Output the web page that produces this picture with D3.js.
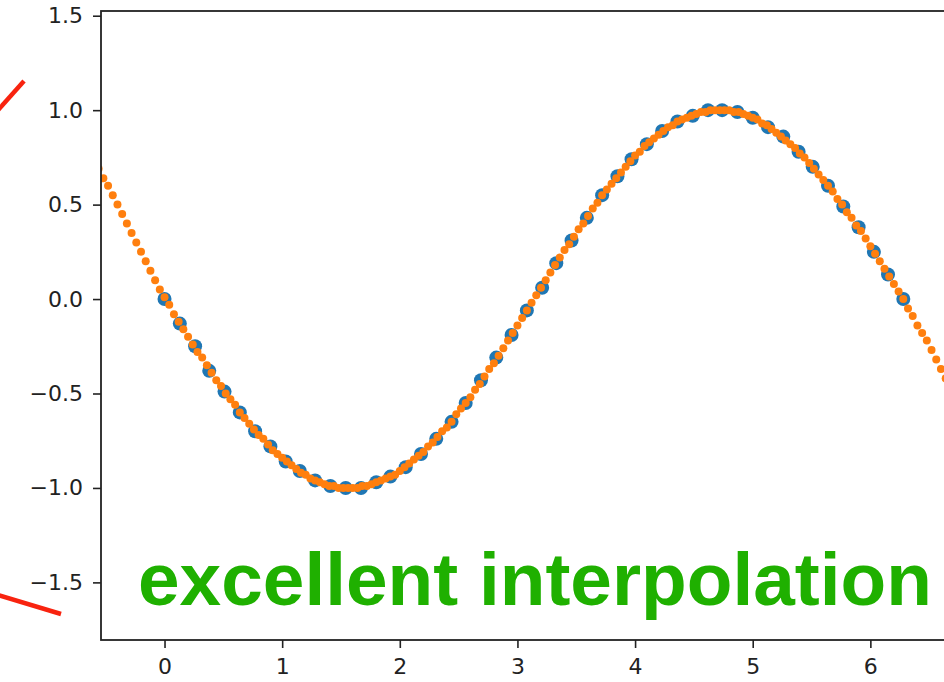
<!DOCTYPE html>
<html>
<head>
<meta charset="utf-8">
<script src="https://cdn.jsdelivr.net/npm/d3@7"></script>
<style>
  html, body { margin: 0; padding: 0; background: #fff; }
  svg { display: block; }
  .tick text { font-family: "DejaVu Sans", sans-serif; font-size: 22px; fill: #222; }
</style>
</head>
<body>
<svg id="chart" width="944" height="682"></svg>
<script>
// Training samples (blue)
const sampleX = [0.00, 0.13, 0.26, 0.38, 0.51, 0.64, 0.77, 0.90, 1.03, 1.15,
  1.28, 1.41, 1.54, 1.67, 1.80, 1.92, 2.05, 2.18, 2.31, 2.44,
  2.56, 2.69, 2.82, 2.95, 3.08, 3.21, 3.33, 3.46, 3.59, 3.72,
  3.85, 3.97, 4.10, 4.23, 4.36, 4.49, 4.62, 4.74, 4.87, 5.00,
  5.13, 5.26, 5.39, 5.51, 5.64, 5.77, 5.90, 6.03, 6.15, 6.28];
const sampleY = [0.00, -0.13, -0.25, -0.38, -0.49, -0.60, -0.70, -0.78, -0.86, -0.91,
  -0.96, -0.99, -1.00, -1.00, -0.97, -0.94, -0.89, -0.82, -0.74, -0.65,
  -0.55, -0.43, -0.31, -0.19, -0.06, 0.06, 0.19, 0.31, 0.43, 0.55,
  0.65, 0.74, 0.82, 0.89, 0.94, 0.97, 1.00, 1.00, 0.99, 0.96,
  0.91, 0.86, 0.78, 0.70, 0.60, 0.49, 0.38, 0.25, 0.13, 0.00];

// Model predictions on a dense grid (orange)
const predX = [-0.56, -0.52, -0.48, -0.44, -0.40, -0.36, -0.32, -0.28, -0.24, -0.20,
  -0.16, -0.12, -0.08, -0.04, 0.00, 0.04, 0.08, 0.12, 0.16, 0.20,
  0.24, 0.28, 0.32, 0.36, 0.40, 0.44, 0.48, 0.52, 0.56, 0.60,
  0.64, 0.68, 0.72, 0.76, 0.80, 0.84, 0.88, 0.92, 0.96, 1.00,
  1.04, 1.08, 1.12, 1.16, 1.20, 1.24, 1.28, 1.32, 1.36, 1.40,
  1.44, 1.48, 1.52, 1.56, 1.60, 1.64, 1.68, 1.72, 1.76, 1.80,
  1.84, 1.88, 1.92, 1.96, 2.00, 2.04, 2.08, 2.12, 2.16, 2.20,
  2.24, 2.28, 2.32, 2.36, 2.40, 2.44, 2.48, 2.52, 2.56, 2.60,
  2.64, 2.68, 2.72, 2.76, 2.80, 2.84, 2.88, 2.92, 2.96, 3.00,
  3.04, 3.08, 3.12, 3.16, 3.20, 3.24, 3.28, 3.32, 3.36, 3.40,
  3.44, 3.48, 3.52, 3.56, 3.60, 3.64, 3.68, 3.72, 3.76, 3.80,
  3.84, 3.88, 3.92, 3.96, 4.00, 4.04, 4.08, 4.12, 4.16, 4.20,
  4.24, 4.28, 4.32, 4.36, 4.40, 4.44, 4.48, 4.52, 4.56, 4.60,
  4.64, 4.68, 4.72, 4.76, 4.80, 4.84, 4.88, 4.92, 4.96, 5.00,
  5.04, 5.08, 5.12, 5.16, 5.20, 5.24, 5.28, 5.32, 5.36, 5.40,
  5.44, 5.48, 5.52, 5.56, 5.60, 5.64, 5.68, 5.72, 5.76, 5.80,
  5.84, 5.88, 5.92, 5.96, 6.00, 6.04, 6.08, 6.12, 6.16, 6.20,
  6.24, 6.28, 6.32, 6.36, 6.40, 6.44, 6.48, 6.52, 6.56, 6.60,
  6.64, 6.68];
const predY = [0.69, 0.64, 0.60, 0.55, 0.50, 0.45, 0.40, 0.35, 0.30, 0.25,
  0.20, 0.15, 0.10, 0.05, 0.01, -0.03, -0.08, -0.12, -0.16, -0.20,
  -0.24, -0.28, -0.31, -0.35, -0.39, -0.43, -0.46, -0.50, -0.53, -0.56,
  -0.60, -0.63, -0.66, -0.69, -0.72, -0.74, -0.77, -0.80, -0.82, -0.84,
  -0.86, -0.88, -0.90, -0.92, -0.93, -0.95, -0.96, -0.97, -0.98, -0.99,
  -0.99, -1.00, -1.00, -1.00, -1.00, -1.00, -0.99, -0.99, -0.98, -0.97,
  -0.96, -0.95, -0.94, -0.93, -0.91, -0.89, -0.87, -0.85, -0.83, -0.81,
  -0.78, -0.76, -0.73, -0.70, -0.68, -0.65, -0.61, -0.58, -0.55, -0.52,
  -0.48, -0.45, -0.41, -0.37, -0.34, -0.30, -0.26, -0.22, -0.18, -0.14,
  -0.10, -0.06, -0.02, 0.02, 0.06, 0.10, 0.14, 0.18, 0.22, 0.26,
  0.29, 0.33, 0.37, 0.40, 0.44, 0.48, 0.51, 0.55, 0.58, 0.61,
  0.64, 0.67, 0.70, 0.73, 0.76, 0.78, 0.81, 0.83, 0.85, 0.87,
  0.89, 0.91, 0.92, 0.94, 0.95, 0.96, 0.97, 0.98, 0.99, 0.99,
  1.00, 1.00, 1.00, 1.00, 1.00, 0.99, 0.99, 0.98, 0.97, 0.96,
  0.95, 0.93, 0.92, 0.90, 0.88, 0.86, 0.84, 0.82, 0.80, 0.77,
  0.75, 0.72, 0.69, 0.66, 0.63, 0.60, 0.57, 0.53, 0.50, 0.46,
  0.43, 0.39, 0.36, 0.32, 0.28, 0.24, 0.20, 0.16, 0.12, 0.08,
  0.04, 0.00, -0.05, -0.09, -0.14, -0.18, -0.22, -0.27, -0.32, -0.37,
  -0.42, -0.47];

const xTickValues = [0, 1, 2, 3, 4, 5, 6];
const yTickValues = [-1.5, -1.0, -0.5, 0.0, 0.5, 1.0, 1.5];
const caption = "excellent interpolation";

const svg = d3.select("#chart");
const plot = { left: 101, top: 11, right: 988, bottom: 640 };

const x = d3.scaleLinear().domain([-0.54, 7.0]).range([plot.left, plot.right]);
const y = d3.scaleLinear().domain([-1.805, 1.525]).range([plot.bottom, plot.top]);

svg.append("defs").append("clipPath").attr("id", "plotClip")
  .append("rect")
  .attr("x", plot.left).attr("y", plot.top)
  .attr("width", plot.right - plot.left).attr("height", plot.bottom - plot.top);

// Data layers
const data = svg.append("g").attr("clip-path", "url(#plotClip)");

data.append("g").selectAll("circle")
  .data(sampleX.map((v, i) => [v, sampleY[i]]))
  .join("circle")
  .attr("cx", d => x(d[0]))
  .attr("cy", d => y(d[1]))
  .attr("r", 7)
  .attr("fill", "#1f77b4");

data.append("g").selectAll("circle")
  .data(predX.map((v, i) => [v, predY[i]]))
  .join("circle")
  .attr("cx", d => x(d[0]))
  .attr("cy", d => y(d[1]))
  .attr("r", 4)
  .attr("fill", "#ff7f0e");

// Axes
const fmtY = d3.format(".1f");
const yAxis = svg.append("g")
  .attr("transform", `translate(${plot.left},0)`)
  .call(d3.axisLeft(y).tickValues(yTickValues).tickFormat(fmtY).tickSize(8).tickPadding(10));
const xAxis = svg.append("g")
  .attr("transform", `translate(0,${plot.bottom})`)
  .call(d3.axisBottom(x).tickValues(xTickValues).tickFormat(d3.format("d")).tickSize(8).tickPadding(10));

[xAxis, yAxis].forEach(a => {
  a.select(".domain").remove();
  a.selectAll(".tick line").attr("stroke", "#222").attr("stroke-width", 1.6);
});

// Frame
svg.append("rect")
  .attr("x", plot.left).attr("y", plot.top)
  .attr("width", plot.right - plot.left).attr("height", plot.bottom - plot.top)
  .attr("fill", "none").attr("stroke", "#222").attr("stroke-width", 1.8);

// Caption
svg.append("text")
  .attr("x", 138).attr("y", 605)
  .attr("font-family", "'Liberation Sans', Arial, Helvetica, sans-serif")
  .attr("font-weight", "bold")
  .attr("font-size", 74.8)
  .attr("fill", "#1fb000")
  .text(caption);

// Red pointer strokes at the left margin
const pointerStrokes = [
  [[-2, 110], [24, 81]],
  [[-2, 595], [61, 614]]
];
svg.append("g").selectAll("line")
  .data(pointerStrokes)
  .join("line")
  .attr("x1", d => d[0][0]).attr("y1", d => d[0][1])
  .attr("x2", d => d[1][0]).attr("y2", d => d[1][1])
  .attr("stroke", "#f8230f")
  .attr("stroke-width", 4.5);
</script>
</body>
</html>
